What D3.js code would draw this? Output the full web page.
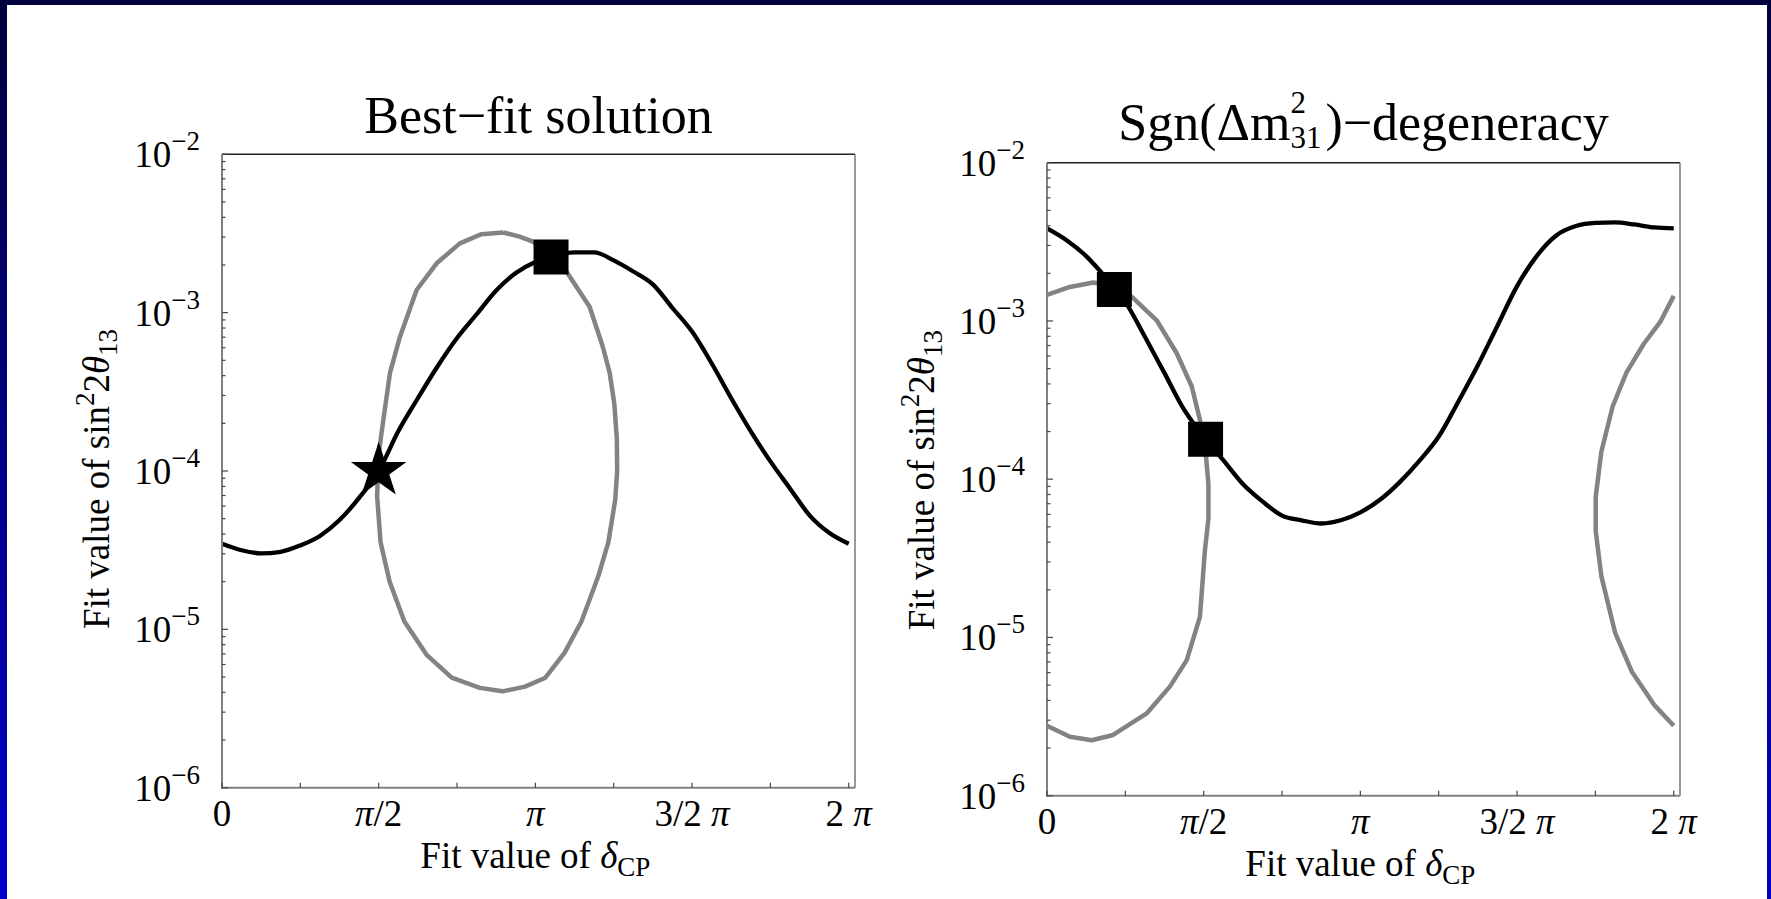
<!DOCTYPE html>
<html>
<head>
<meta charset="utf-8">
<script src="https://cdn.jsdelivr.net/npm/d3@7"></script>
<style>
  html, body { margin: 0; padding: 0; background: #fff; }
  svg { display: block; }
  text { font-family: "Liberation Serif", "Times New Roman", serif; fill: #000; }
</style>
</head>
<body>
<svg id="chart" width="1771" height="899"></svg>
<script>
// ---- axis ticks (δCP in units of π, sin²2θ13 on a log axis) ----
const xTickValues = [0, 0.5, 1, 1.5, 2];
const xTickLabels = ["0", "π/2", "π", "3/2 π", "2 π"];
const xMinorTicks = [0.25, 0.75, 1.25, 1.75];
const yDecadeValues = [1e-6, 1e-5, 1e-4, 1e-3, 1e-2];
const yDecadeExponents = ["−6", "−5", "−4", "−3", "−2"];

// ---- panel 1: best-fit solution ----
const bestFitDelta = [0, 0.0625, 0.125, 0.1875, 0.25, 0.3125, 0.375, 0.4375, 0.5, 0.5625, 0.625,
  0.6875, 0.75, 0.8125, 0.875, 0.9375, 1.0, 1.0625, 1.125, 1.1875, 1.25, 1.3125, 1.375,
  1.4375, 1.5, 1.5625, 1.625, 1.6875, 1.75, 1.8125, 1.875, 1.9375, 2.0];
const bestFitTheta = [3.47e-5, 3.16e-5, 3.02e-5, 3.09e-5, 3.39e-5, 3.89e-5, 4.90e-5, 6.76e-5, 1.0e-4,
  1.78e-4, 2.88e-4, 4.57e-4, 6.92e-4, 9.77e-4, 1.38e-3, 1.78e-3, 2.09e-3, 2.29e-3, 2.40e-3,
  2.40e-3, 2.14e-3, 1.82e-3, 1.51e-3, 1.07e-3, 7.59e-4, 4.79e-4, 2.88e-4, 1.78e-4, 1.15e-4,
  7.76e-5, 5.25e-5, 4.07e-5, 3.47e-5];
const bestFitLoopDelta = [0.897, 0.950, 0.992, 1.05, 1.099, 1.173, 1.214, 1.237, 1.252, 1.260, 1.261,
  1.255, 1.233, 1.201, 1.147, 1.093, 1.032, 0.967, 0.895, 0.823, 0.733, 0.654, 0.582, 0.535,
  0.506, 0.495, 0.500, 0.509, 0.536, 0.568, 0.621, 0.685, 0.759, 0.828, 0.897];
const bestFitLoopTheta = [3.21e-3, 3.02e-3, 2.81e-3, 2.34e-3, 1.82e-3, 1.09e-3, 6.20e-4, 4.18e-4, 2.65e-4,
  1.60e-4, 1.00e-4, 6.60e-5, 3.55e-5, 2.17e-5, 1.12e-5, 7.10e-6, 4.95e-6, 4.35e-6, 4.06e-6,
  4.27e-6, 4.95e-6, 6.87e-6, 1.12e-5, 2.00e-5, 3.55e-5, 6.92e-5, 1.26e-4, 1.74e-4, 4.16e-4,
  7.05e-4, 1.39e-3, 2.05e-3, 2.74e-3, 3.13e-3, 3.21e-3];
const bestFitStar = [0.5, 1.0e-4];
const bestFitSquares = [[1.05, 2.25e-3]];

// ---- panel 2: sgn(Δm²31) degeneracy ----
const sgnDelta = bestFitDelta;
const sgnTheta = [3.85e-3, 3.24e-3, 2.57e-3, 1.88e-3, 1.32e-3, 7.94e-4, 4.68e-4, 2.75e-4, 1.86e-4,
  1.32e-4, 9.33e-5, 7.24e-5, 5.89e-5, 5.50e-5, 5.25e-5, 5.50e-5, 6.17e-5, 7.41e-5, 9.55e-5,
  1.30e-4, 1.86e-4, 3.09e-4, 5.25e-4, 9.33e-4, 1.66e-3, 2.57e-3, 3.47e-3, 3.98e-3, 4.17e-3,
  4.20e-3, 4.07e-3, 3.90e-3, 3.85e-3];
const sgnLoopLeftDelta = [0, 0.073, 0.148, 0.21, 0.271, 0.350, 0.414, 0.462, 0.488, 0.505, 0.515,
  0.515, 0.504, 0.488, 0.446, 0.392, 0.318, 0.211, 0.143, 0.073, 0];
const sgnLoopLeftTheta = [1.46e-3, 1.64e-3, 1.75e-3, 1.66e-3, 1.42e-3, 1.01e-3, 6.25e-4, 3.85e-4,
  2.37e-4, 1.58e-4, 9.42e-5, 5.62e-5, 3.56e-5, 1.35e-5, 7.19e-6, 4.89e-6, 3.31e-6, 2.42e-6,
  2.24e-6, 2.36e-6, 2.77e-6];
const sgnLoopRightDelta = [2.0, 1.957, 1.903, 1.849, 1.805, 1.769, 1.751, 1.751, 1.769, 1.813, 1.867,
  1.939, 2.0];
const sgnLoopRightTheta = [1.44e-3, 9.86e-4, 7.10e-4, 4.71e-4, 2.88e-4, 1.49e-4, 7.73e-5, 4.71e-5,
  2.44e-5, 1.07e-5, 6.04e-6, 3.72e-6, 2.77e-6];
const sgnSquares = [[0.215, 1.58e-3], [0.506, 1.79e-4]];

const zip = (a, b) => a.map((v, i) => [v, b[i]]);

const W = 1771, H = 899;
const svg = d3.select("#chart");

// slide frame: dark-to-bright blue gradient behind a white sheet
const defs = svg.append("defs");
const grad = defs.append("linearGradient").attr("id", "frameGrad")
  .attr("x1", 0).attr("y1", 0).attr("x2", 0).attr("y2", 1);
grad.append("stop").attr("offset", "0%").attr("stop-color", "#00003c");
grad.append("stop").attr("offset", "100%").attr("stop-color", "#0000cc");
svg.append("rect").attr("width", W).attr("height", H).attr("fill", "url(#frameGrad)");
svg.append("rect").attr("x", 7).attr("y", 5).attr("width", 1760).attr("height", H - 5).attr("fill", "#fff");

const FS = 37;      // tick / axis label size
const FS_SUP = 27;  // exponent size
const FS_TITLE = 52;
const FS_TITLE_SCRIPT = 31;

function addPiLabel(sel, label) {
  const parts = label.split("π");
  parts.forEach((p, i) => {
    if (p) sel.append("tspan").text(p);
    if (i < parts.length - 1) sel.append("tspan").attr("font-style", "italic").text("π");
  });
}

function drawPanel(p) {
  const x = d3.scaleLinear().domain([0, 2.02]).range([p.x0, p.x1]);
  const y = d3.scaleLog().domain([1e-6, 1e-2]).range([p.y1, p.y0]);
  const g = svg.append("g");

  const smooth = d3.line().x(d => x(d[0])).y(d => y(d[1])).curve(d3.curveMonotoneX);
  const poly = d3.line().x(d => x(d[0])).y(d => y(d[1])).curve(d3.curveLinear);

  // contour curves (grey) and fitted minimum (black)
  p.grey.forEach(pts => {
    g.append("path").attr("d", poly(pts)).attr("fill", "none")
      .attr("stroke", "#838383").attr("stroke-width", 4.5).attr("stroke-linejoin", "round");
  });
  g.append("path").attr("d", smooth(p.black)).attr("fill", "none")
    .attr("stroke", "#000").attr("stroke-width", 4.3).attr("stroke-linejoin", "round");

  // frame
  g.append("line").attr("x1", p.x0).attr("x2", p.x1).attr("y1", p.y0).attr("y2", p.y0)
    .attr("stroke", "#222").attr("stroke-width", 1.5);
  g.append("line").attr("x1", p.x1).attr("x2", p.x1).attr("y1", p.y0).attr("y2", p.y1)
    .attr("stroke", "#777").attr("stroke-width", 1.5);
  g.append("line").attr("x1", p.x0).attr("x2", p.x0).attr("y1", p.y0).attr("y2", p.y1 + 1)
    .attr("stroke", "#808080").attr("stroke-width", 2);
  g.append("line").attr("x1", p.x0 - 1).attr("x2", p.x1).attr("y1", p.y1).attr("y2", p.y1)
    .attr("stroke", "#808080").attr("stroke-width", 2);

  // x ticks (inside)
  xTickValues.concat(xMinorTicks).forEach(v => {
    g.append("line").attr("x1", x(v)).attr("x2", x(v)).attr("y1", p.y1).attr("y2", p.y1 - 5)
      .attr("stroke", "#444").attr("stroke-width", 1.2);
  });
  // y ticks (inside), decades longer
  yDecadeValues.forEach((d, i) => {
    g.append("line").attr("x1", p.x0).attr("x2", p.x0 + 6).attr("y1", y(d)).attr("y2", y(d))
      .attr("stroke", "#444").attr("stroke-width", 1.2);
    if (i < yDecadeValues.length - 1) {
      for (let k = 2; k <= 9; k++) {
        g.append("line").attr("x1", p.x0).attr("x2", p.x0 + 3.5)
          .attr("y1", y(k * d)).attr("y2", y(k * d))
          .attr("stroke", "#444").attr("stroke-width", 1.2);
      }
    }
  });

  // tick labels
  xTickValues.forEach((v, i) => {
    const t = g.append("text").attr("x", x(v)).attr("y", p.y1 + 38)
      .attr("text-anchor", "middle").attr("font-size", FS);
    addPiLabel(t, xTickLabels[i]);
  });
  yDecadeValues.forEach((d, i) => {
    const t = g.append("text").attr("x", p.x0 - 22).attr("y", y(d) + 13)
      .attr("text-anchor", "end").attr("font-size", FS);
    t.append("tspan").text("10");
    t.append("tspan").attr("font-size", FS_SUP).attr("dy", -17).text(yDecadeExponents[i]);
  });

  // axis titles
  const xt = g.append("text").attr("x", x(1)).attr("y", p.y1 + 80)
    .attr("text-anchor", "middle").attr("font-size", FS);
  xt.append("tspan").text("Fit value of ");
  xt.append("tspan").attr("font-style", "italic").text("δ");
  xt.append("tspan").attr("font-size", FS_SUP).attr("dy", 8).text("CP");

  const yt = g.append("text")
    .attr("transform", `translate(${p.x0 - 113},${(p.y0 + p.y1) / 2 + p.yTitleShift}) rotate(-90)`)
    .attr("text-anchor", "middle").attr("font-size", FS);
  yt.append("tspan").text("Fit value of sin");
  yt.append("tspan").attr("font-size", FS_SUP).attr("dy", -15).text("2");
  yt.append("tspan").attr("dy", 15).text("2");
  yt.append("tspan").attr("font-style", "italic").text("θ");
  yt.append("tspan").attr("font-size", FS_SUP).attr("dy", 8).text("13");

  // panel title
  p.title(g, (p.x0 + p.x1) / 2, p.y0 - p.titleGap);

  // markers
  if (p.star) {
    g.append("path").attr("d", d3.symbol(d3.symbolStar, 957)())
      .attr("transform", `translate(${x(p.star[0])},${y(p.star[1])})`).attr("fill", "#000");
  }
  p.squares.forEach(s => {
    g.append("path").attr("d", d3.symbol(d3.symbolSquare, 1225)())
      .attr("transform", `translate(${x(s[0])},${y(s[1])})`).attr("fill", "#000");
  });
}

drawPanel({
  x0: 222, x1: 855, y0: 154.3, y1: 787.7, yTitleShift: 8, titleGap: 21,
  black: zip(bestFitDelta, bestFitTheta),
  grey: [zip(bestFitLoopDelta, bestFitLoopTheta)],
  star: bestFitStar,
  squares: bestFitSquares,
  title: (g, cx, by) => {
    g.append("text").attr("x", cx).attr("y", by).attr("font-size", FS_TITLE)
      .attr("text-anchor", "middle").text("Best−fit solution");
  }
});

drawPanel({
  x0: 1047, x1: 1680, y0: 162.7, y1: 795.7, yTitleShift: 1, titleGap: 22.7,
  black: zip(sgnDelta, sgnTheta),
  grey: [zip(sgnLoopLeftDelta, sgnLoopLeftTheta), zip(sgnLoopRightDelta, sgnLoopRightTheta)],
  star: null,
  squares: sgnSquares,
  title: (g, cx, by) => {
    // title pieces laid out left to right, with "2" stacked over "31" after Δm
    const head = g.append("text").attr("y", by).attr("font-size", FS_TITLE).text("Sgn(Δm");
    const sup = g.append("text").attr("y", by - 27).attr("font-size", FS_TITLE_SCRIPT).text("2");
    const sub = g.append("text").attr("y", by + 7.5).attr("font-size", FS_TITLE_SCRIPT).text("31");
    const tail = g.append("text").attr("y", by).attr("font-size", FS_TITLE).text(")−degeneracy");
    const wHead = head.node().getComputedTextLength();
    const wScript = Math.max(sup.node().getComputedTextLength(), sub.node().getComputedTextLength());
    const wTail = tail.node().getComputedTextLength();
    const gap = 4;
    const x0 = cx - (wHead + wScript + gap + wTail) / 2;
    head.attr("x", x0);
    sup.attr("x", x0 + wHead);
    sub.attr("x", x0 + wHead);
    tail.attr("x", x0 + wHead + wScript + gap);
  }
});
</script>
</body>
</html>
